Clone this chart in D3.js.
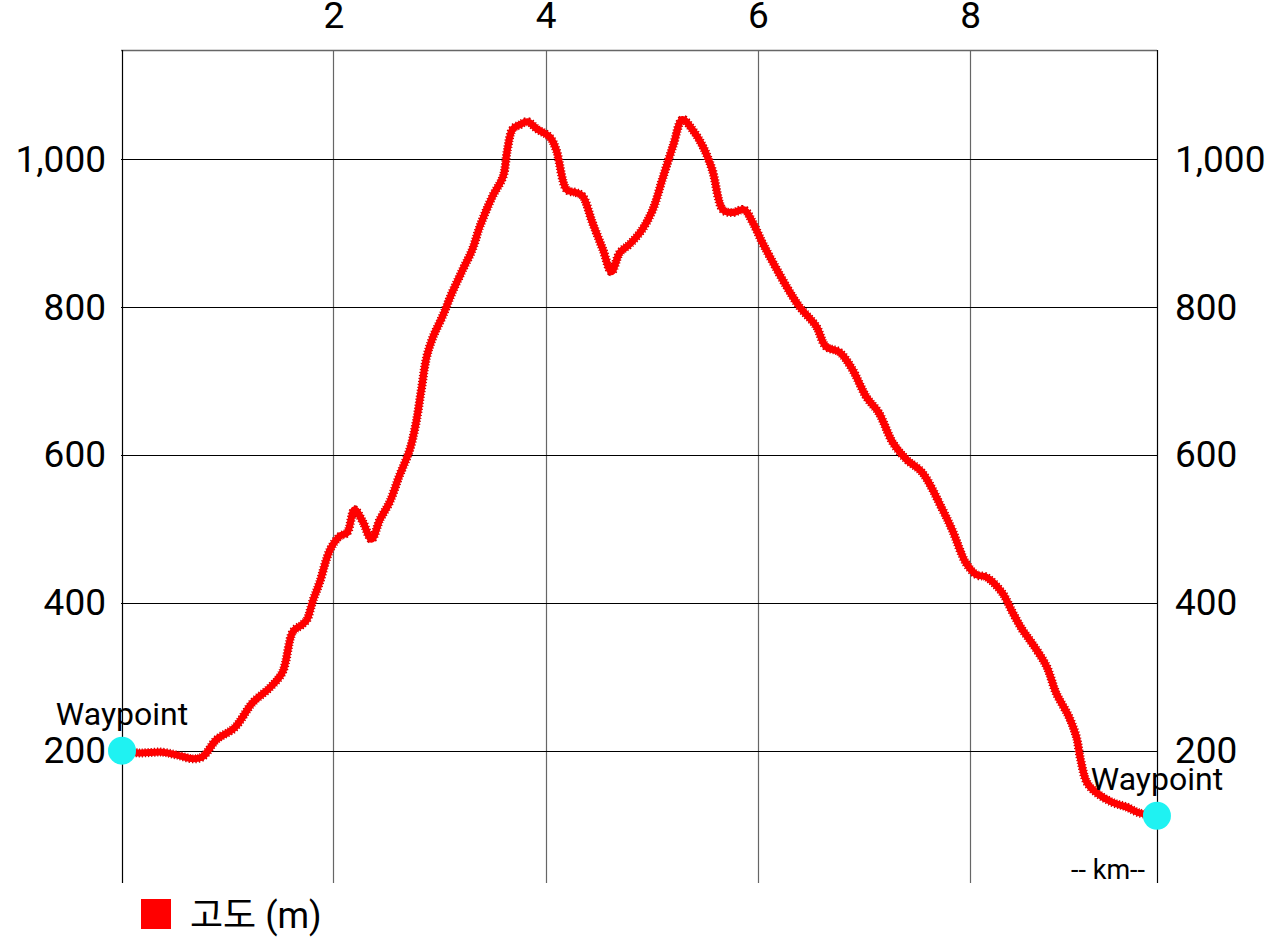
<!DOCTYPE html>
<html>
<head>
<meta charset="utf-8">
<script src="https://cdn.jsdelivr.net/npm/d3@7/dist/d3.min.js"></script>
<style>
  html, body { margin: 0; padding: 0; background: #fff; }
  svg { display: block; }
  text { font-family: Roboto, "Noto Sans CJK KR", sans-serif; fill: #000; }
</style>
</head>
<body>
<svg id="chart" width="1276" height="947"></svg>
<script>
// ---- data (distance in km, elevation in m) ----
const distanceKm = [0.00, 0.17, 0.39, 0.53, 0.68, 0.77, 0.90, 1.07, 1.24, 1.40, 1.52, 1.62, 1.70, 1.75, 1.81, 1.87, 1.97, 2.06, 2.13, 2.20, 2.28, 2.36, 2.44, 2.53, 2.62, 2.72, 2.78, 2.83, 2.88, 2.94, 3.03, 3.12, 3.22, 3.31, 3.38, 3.50, 3.60, 3.64, 3.69, 3.76, 3.83, 3.92, 4.04, 4.10, 4.20, 4.29, 4.35, 4.44, 4.54, 4.62, 4.70, 4.79, 4.91, 5.01, 5.10, 5.20, 5.29, 5.38, 5.48, 5.57, 5.67, 5.76, 5.87, 5.95, 6.04, 6.11, 6.27, 6.39, 6.55, 6.64, 6.77, 6.89, 7.02, 7.14, 7.27, 7.40, 7.55, 7.74, 7.83, 7.96, 8.06, 8.15, 8.30, 8.40, 8.49, 8.58, 8.72, 8.81, 8.93, 9.00, 9.04, 9.10, 9.19, 9.34, 9.47, 9.59, 9.75];
const elevationM = [200, 197, 198, 194, 189, 192, 215, 231, 265, 285, 306, 361, 370, 377, 404, 427, 472, 490, 495, 526, 509, 486, 513, 536, 571, 607, 644, 689, 733, 760, 788, 820, 851, 878, 909, 950, 977, 1013, 1041, 1047, 1051, 1041, 1030, 1013, 959, 955, 950, 915, 878, 848, 874, 885, 905, 932, 973, 1018, 1054, 1041, 1018, 986, 932, 928, 932, 915, 888, 869, 828, 801, 774, 747, 739, 716, 679, 657, 617, 594, 576, 526, 499, 454, 438, 435, 414, 387, 364, 346, 314, 278, 246, 219, 188, 157, 143, 130, 124, 116, 112];
const waypointKm = [0.00, 9.75];
const waypointM = [200, 112];
const waypointLabels = ["Waypoint", "Waypoint"];
const xTicks = [2, 4, 6, 8];
const yTicks = [200, 400, 600, 800, 1000];
const xDomain = [0, 9.76];
const yDomain = [21, 1148];
const seriesName = "고도 (m)";
const xUnitLabel = "-- km--";

// ---- layout ----
const L = 121, R = 1157, T = 50, B = 883;
const svg = d3.select("#chart");
const x = d3.scaleLinear().domain(xDomain).range([L, R]);
const y = d3.scaleLinear().domain(yDomain).range([B, T]);

// grid: vertical lines
const gGrid = svg.append("g");
gGrid.selectAll("line.v").data(xTicks).join("line")
  .attr("x1", d => Math.round(x(d)) + 0.5).attr("x2", d => Math.round(x(d)) + 0.5)
  .attr("y1", T).attr("y2", B)
  .attr("stroke", "#666").attr("stroke-width", 1.2);
// horizontal lines
gGrid.selectAll("line.h").data(yTicks).join("line")
  .attr("x1", L).attr("x2", R)
  .attr("y1", d => Math.round(y(d)) + 0.5).attr("y2", d => Math.round(y(d)) + 0.5)
  .attr("stroke", "#000").attr("stroke-width", 1.2);
// frame: top, left, right
gGrid.append("line").attr("x1", L).attr("x2", R).attr("y1", T + 0.5).attr("y2", T + 0.5)
  .attr("stroke", "#666").attr("stroke-width", 1.5);
gGrid.append("line").attr("x1", L + 1.5).attr("x2", L + 1.5).attr("y1", T).attr("y2", B)
  .attr("stroke", "#000").attr("stroke-width", 1.2);
gGrid.append("line").attr("x1", R + 0.5).attr("x2", R + 0.5).attr("y1", T).attr("y2", B)
  .attr("stroke", "#000").attr("stroke-width", 1.2);

// axes (labels only)
const fmt = d3.format(",");
const topAxis = svg.append("g").attr("transform", `translate(0,${T})`)
  .call(d3.axisTop(x).tickValues(xTicks).tickSize(0).tickPadding(22).tickFormat(d3.format("d")));
const leftAxis = svg.append("g").attr("transform", `translate(${L},0)`)
  .call(d3.axisLeft(y).tickValues(yTicks).tickSize(0).tickPadding(15).tickFormat(fmt));
const rightAxis = svg.append("g").attr("transform", `translate(${R},0)`)
  .call(d3.axisRight(y).tickValues(yTicks).tickSize(0).tickPadding(18).tickFormat(fmt));
[topAxis, leftAxis, rightAxis].forEach(g => {
  g.select(".domain").remove();
  g.selectAll("text").attr("font-size", 37).attr("font-family", "Roboto, sans-serif").attr("fill", "#000");
});

// unit label
svg.append("text").attr("x", R - 12).attr("y", 879).attr("text-anchor", "end")
  .attr("font-size", 27).text(xUnitLabel);

// elevation line
const pts = distanceKm.map((d, i) => [d, elevationM[i]]);
const line = d3.line().x(d => x(d[0])).y(d => y(d[1])).curve(d3.curveCatmullRom.alpha(0.5));
svg.append("path").datum(pts).attr("d", line)
  .attr("fill", "none").attr("stroke", "#c80000").attr("stroke-width", 9)
  .attr("stroke-dasharray", "1.2 1.8").attr("stroke-linejoin", "round");
svg.append("path").datum(pts).attr("d", line)
  .attr("fill", "none").attr("stroke", "#ff0000").attr("stroke-width", 7)
  .attr("stroke-linejoin", "round").attr("stroke-linecap", "round");

// waypoints
const wp = waypointKm.map((d, i) => ({ k: d, m: waypointM[i], label: waypointLabels[i] }));
svg.selectAll("circle.wp").data(wp).join("circle")
  .attr("cx", d => x(d.k) + 1).attr("cy", d => y(d.m)).attr("r", 14)
  .attr("fill", "#1ff2f2");
svg.selectAll("text.wp").data(wp).join("text")
  .attr("x", d => x(d.k) + 1).attr("y", d => y(d.m) - 26)
  .attr("text-anchor", "middle").attr("font-size", 32).text(d => d.label);

// legend
svg.append("rect").attr("x", 141).attr("y", 899).attr("width", 30).attr("height", 30).attr("fill", "#ff0000");
svg.append("text").attr("x", 190).attr("y", 928).attr("font-size", 36)
  .attr("font-family", "Roboto, 'Noto Sans CJK KR', sans-serif").text(seriesName);
</script>
</body>
</html>
